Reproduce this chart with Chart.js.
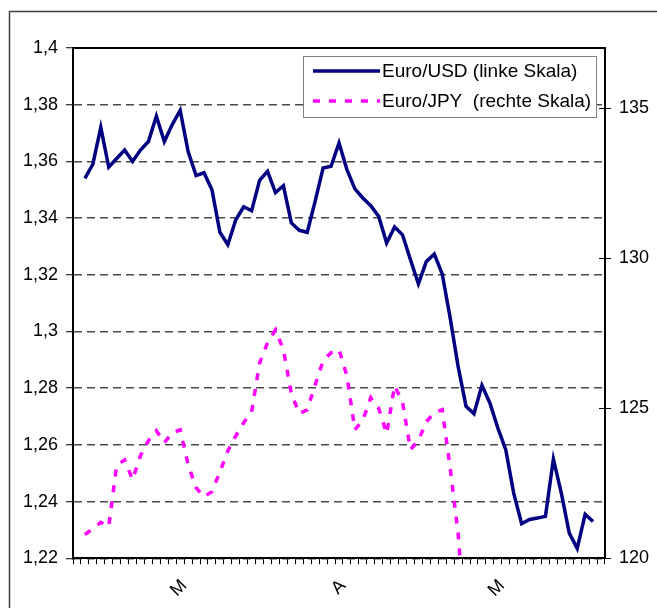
<!DOCTYPE html>
<html>
<head>
<meta charset="utf-8">
<script src="https://cdn.jsdelivr.net/npm/chart.js@4.4.1/dist/chart.umd.min.js"></script>
<style>
  html, body { margin: 0; padding: 0; background: #fff; }
  canvas { display: block; }
</style>
</head>
<body>
<canvas id="fx" width="657" height="608"></canvas>
<script>
// Trading days, early March to end of May; one label per month
const dayLabels = [
  '', '', '', '', '', '', '', '', '', '', '', '', '', 'M', '', '', '', '', '', '', '',
  '', '', '', '', '', '', '', '', '', '', '', '', 'A', '', '', '', '', '', '', '',
  '', '', '', '', '', '', '', '', '', '', '', '', 'M', '', '', '', '', '', '', '',
  '', '', '', '', '', ''
];

// Euro/USD (left scale)
const usdValues = [
  null, 1.354, 1.359, 1.372, 1.358, 1.361, 1.364, 1.360, 1.364, 1.367,
  1.376, 1.367, 1.373, 1.378, 1.3635, 1.355, 1.356, 1.350, 1.335, 1.3306,
  1.3394, 1.344, 1.3426, 1.3533, 1.3565, 1.349, 1.3514, 1.3383, 1.3357, 1.335,
  1.346, 1.3577, 1.3583, 1.3665, 1.3571, 1.3503, 1.3471, 1.3444, 1.3406, 1.3312,
  1.3369, 1.3341, 1.3253, 1.3168, 1.3247, 1.3273, 1.3203, 1.3048, 1.2877, 1.2736,
  1.271, 1.281, 1.2748, 1.266, 1.2583, 1.243, 1.2322, 1.2337, 1.2342, 1.2348,
  1.255, 1.243, 1.2289, 1.2235, 1.2355, 1.233, null
];

// Euro/JPY (right scale)
const jpyValues = [
  null, 120.79, 120.99, 121.2, 121.05, 123.1, 123.28, 122.62, 123.42, 123.92,
  124.25, 123.85, 124.18, 124.28, 123.12, 122.35, 122.05, 122.22, 122.88, 123.58,
  124.08, 124.52, 124.88, 126.51, 127.18, 127.61, 126.95, 125.48, 124.82, 124.95,
  125.78, 126.58, 126.85, 126.95, 126.08, 124.28, 124.6, 125.35, 125.0, 124.15,
  125.75, 125.2, 123.62, 123.92, 124.55, 124.85, 124.95, 123.02, 120.82, 117.5,
  null, null, null, null, null, null, null, null, null, null,
  null, null, null, null, null, null, null
];

const seriesNames = ['Euro/USD (linke Skala)', 'Euro/JPY  (rechte Skala)'];

const FONT = "'Liberation Sans', Arial, sans-serif";

// Frame, inner tick halves on the right axis, and the boxed legend
const decorations = {
  id: 'decorations',
  afterDraw(chart) {
    const ctx = chart.ctx;
    const a = chart.chartArea;
    ctx.save();

    // outer frame
    ctx.strokeStyle = '#404040';
    ctx.lineWidth = 1.5;
    ctx.strokeRect(9.5, 11.5, 800, 800);

    // top edge of plot area
    ctx.strokeStyle = '#000';
    ctx.lineWidth = 2;
    ctx.beginPath();
    ctx.moveTo(a.left, a.top);
    ctx.lineTo(a.right, a.top);
    ctx.stroke();

    // right-axis ticks also reach into the plot
    const r = chart.scales.y1;
    ctx.lineWidth = 1;
    r.ticks.forEach(t => {
      const y = Math.round(r.getPixelForValue(t.value)) + 0.5;
      ctx.beginPath();
      ctx.moveTo(a.right - 6, y);
      ctx.lineTo(a.right, y);
      ctx.stroke();
    });

    // legend box
    const bx = 303.5, by = 56.5, bw = 293, bh = 61;
    ctx.fillStyle = '#fff';
    ctx.fillRect(bx, by, bw, bh);
    ctx.strokeStyle = '#808080';
    ctx.lineWidth = 1;
    ctx.strokeRect(bx, by, bw, bh);

    const rows = [71, 101];
    chart.data.datasets.forEach((ds, i) => {
      const y = rows[i];
      ctx.strokeStyle = ds.borderColor;
      ctx.lineWidth = ds.borderWidth;
      ctx.setLineDash(ds.borderDash || []);
      ctx.beginPath();
      ctx.moveTo(313, y);
      ctx.lineTo(380, y);
      ctx.stroke();
      ctx.setLineDash([]);
      ctx.fillStyle = '#000';
      ctx.font = '19px ' + FONT;
      ctx.textBaseline = 'middle';
      ctx.textAlign = 'left';
      ctx.fillText(ds.label, 382, y + 1);
    });

    ctx.restore();
  }
};

const commaFormat = v => String(+Number(v).toFixed(2)).replace('.', ',');

new Chart(document.getElementById('fx'), {
  type: 'line',
  data: {
    labels: dayLabels,
    datasets: [
      {
        label: seriesNames[0],
        data: usdValues,
        yAxisID: 'y',
        borderColor: '#000080',
        borderWidth: 3.5,
        pointRadius: 0,
        tension: 0,
        fill: false
      },
      {
        label: seriesNames[1],
        data: jpyValues,
        yAxisID: 'y1',
        borderColor: '#FF00FF',
        borderWidth: 3.5,
        borderDash: [7, 9],
        pointRadius: 0,
        tension: 0,
        fill: false,
        clip: 0
      }
    ]
  },
  options: {
    responsive: false,
    animation: false,
    devicePixelRatio: 1,
    layout: { padding: { top: 48, left: 0, right: 0, bottom: 0 } },
    plugins: {
      legend: { display: false },
      tooltip: { enabled: false }
    },
    scales: {
      x: {
        type: 'category',
        offset: true,
        grid: {
          display: true,
          offset: true,
          drawOnChartArea: false,
          drawTicks: true,
          tickLength: 6,
          color: '#000',
          lineWidth: 1
        },
        border: { display: true, color: '#000', width: 2 },
        ticks: {
          autoSkip: false,
          minRotation: 45,
          maxRotation: 45,
          padding: 11,
          labelOffset: 4,
          color: '#000',
          font: { family: FONT, size: 18 }
        },
        afterFit: s => { s.height = 49.7; }
      },
      y: {
        position: 'left',
        min: 1.22,
        max: 1.4,
        ticks: {
          stepSize: 0.02,
          padding: 8,
          color: '#000',
          font: { family: FONT, size: 18 },
          callback: v => commaFormat(v)
        },
        grid: {
          color: '#4a4a4a',
          lineWidth: 1.5,
          drawTicks: true,
          tickLength: 7,
          tickColor: '#000',
          tickWidth: 1
        },
        border: { display: true, color: '#000', width: 2, dash: [8, 5] },
        afterFit: s => { s.width = 73; }
      },
      y1: {
        position: 'right',
        min: 120,
        max: 137,
        ticks: {
          stepSize: 5,
          includeBounds: false,
          padding: 8,
          color: '#000',
          font: { family: FONT, size: 18 }
        },
        grid: {
          drawOnChartArea: false,
          drawTicks: true,
          tickLength: 6,
          color: '#000',
          lineWidth: 1
        },
        border: { display: true, color: '#000', width: 2 },
        afterFit: s => { s.width = 52; }
      }
    }
  },
  plugins: [decorations]
});
</script>
</body>
</html>
